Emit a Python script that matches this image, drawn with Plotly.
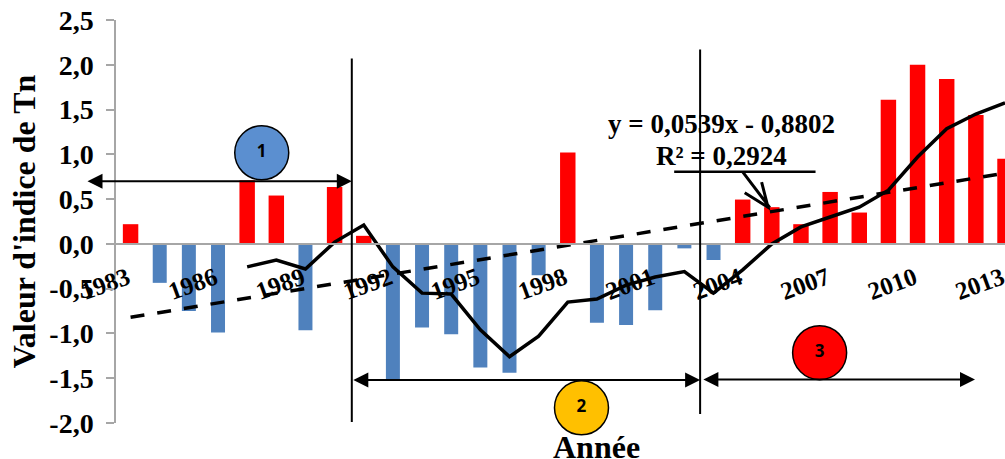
import plotly.graph_objects as go

years = list(range(1983, 2014))
tn_index = [0.22, -0.435, -0.75, -0.99, 0.71, 0.54, -0.965, 0.635, 0.09, -1.53,
            -0.935, -1.01, -1.38, -1.44, -0.35, 1.02, -0.88, -0.905, -0.74, -0.05,
            -0.18, 0.495, 0.41, 0.22, 0.58, 0.35, 1.61, 2.0, 1.84, 1.44, 0.95]

# moving average only starts in 1987
avg_years = list(range(1987, 2014))
moving_avg = [-0.257, -0.18, -0.28, 0.02, 0.21, -0.257, -0.55, -0.56, -0.96, -1.26,
              -1.03, -0.65, -0.615, -0.46, -0.37, -0.31, -0.55, -0.29, 0.0, 0.19,
              0.30, 0.41, 0.60, 0.97, 1.285, 1.45, 1.575]

trend_years = [1983, 2013]
trend_values = [-0.82, 0.79]

y_ticks = [2.5, 2.0, 1.5, 1.0, 0.5, 0.0, -0.5, -1.0, -1.5, -2.0]
y_labels = ["2,5", "2,0", "1,5", "1,0", "0,5", "0,0", "-0,5", "-1,0", "-1,5", "-2,0"]
x_ticks = list(range(1983, 2014, 3))

phase_years = [1987.5, 1998.47, 2006.64]
phase_values = [1.017, -1.83, -1.215]
phase_names = ["1", "2", "3"]
phase_colors = ["#5B8FD0", "#FFC000", "#FF0000"]

SERIF = "Liberation Serif"
GREY = "#A6A6A6"
BLUE = "#4F81BD"

fig = go.Figure()

fig.add_trace(go.Bar(
    x=years, y=tn_index,
    width=[0.53 if v > 0 else 0.48 for v in tn_index],
    marker=dict(color=["#FF0000" if v > 0 else BLUE for v in tn_index], line_width=0),
))
fig.add_trace(go.Scatter(x=trend_years, y=trend_values, mode="lines",
                         line=dict(color="black", width=3.5, dash="14px 13px")))
fig.add_trace(go.Scatter(x=avg_years, y=moving_avg, mode="lines",
                         line=dict(color="black", width=3.5), cliponaxis=False))
fig.add_trace(go.Scatter(
    x=phase_years, y=phase_values, mode="markers+text", cliponaxis=False,
    marker=dict(size=54, color=phase_colors, line=dict(color="black", width=1.5)),
    text=phase_names, textposition="middle center",
    textfont=dict(family="Open Sans", size=17, color="black", weight=700),
))


def double_arrow(x0, x1, y):
    fig.add_annotation(x=x1, y=y, ax=x0, ay=y, xref="x", yref="y", axref="x", ayref="y",
                       text="", showarrow=True, arrowside="end+start", arrowhead=2,
                       startarrowhead=2, arrowsize=1.5, startarrowsize=1.5,
                       arrowwidth=2, arrowcolor="black")


double_arrow(1981.47, 1990.59, 0.70)
double_arrow(1990.59, 2002.54, -1.52)
double_arrow(2002.6, 2011.97, -1.515)

# period separators
fig.add_shape(type="line", x0=1990.59, x1=1990.59, y0=-1.99, y1=2.07,
              line=dict(color="black", width=2))
fig.add_shape(type="line", x0=2002.54, x1=2002.54, y0=-1.90, y1=2.17,
              line=dict(color="black", width=2))

# rule under the equation, with the open arrow pointing at the trend
fig.add_shape(type="line", x0=2001.65, x1=2006.5, y0=0.805, y1=0.805,
              line=dict(color="black", width=2.5))
fig.add_shape(type="path", line=dict(color="black", width=3),
              path="M 2004.0,0.805 L 2004.93,0.405 M 2004.07,0.57 L 2004.87,0.41 L 2004.65,0.69")

for text, y in [("y = 0,0539x - 0,8802", 1.34), ("R² = 0,2924", 0.985)]:
    fig.add_annotation(x=2003.28, y=y, xref="x", yref="y", text=text, showarrow=False,
                       font=dict(family=SERIF, size=27, color="black", weight=700))

# below the plot area, so it has to be placed in paper units
fig.add_annotation(x=1999.0, y=-0.06, xref="x", yref="paper", yanchor="middle",
                   text="Année", showarrow=False,
                   font=dict(family=SERIF, size=32, color="black", weight=700))

fig.update_layout(
    width=1005, height=459,
    margin=dict(l=116, r=0, t=20, b=36, autoexpand=False),
    paper_bgcolor="white", plot_bgcolor="white",
    showlegend=False,
    xaxis=dict(
        range=[1982.5, 2013.0], tickmode="array", tickvals=x_ticks,
        tickfont=dict(family=SERIF, size=25, color="black", weight=700),
        tickangle=-20, ticks="", ticklabelstandoff=9, ticklabelshift=-3,
        ticklabeloverflow="allow",
        anchor="free", position=2.0 / 4.5,
        showgrid=False, zeroline=False, showline=True, linecolor=GREY, linewidth=2,
    ),
    yaxis=dict(
        range=[-2.0, 2.5], tickmode="array", tickvals=y_ticks, ticktext=y_labels,
        tickfont=dict(family=SERIF, size=28, color="black", weight=700),
        ticks="outside", ticklen=8, tickcolor=GREY, tickwidth=1.5, ticklabelstandoff=7,
        showgrid=False, zeroline=False, showline=True, linecolor=GREY, linewidth=1.5,
        # standoff is only honoured with automargin on
        title=dict(text="Valeur d'indice de Tn", standoff=4,
                   font=dict(family=SERIF, size=32, color="black", weight=700)),
        automargin=True,
    ),
)

# the page's default body margin would push the plot 8px in
fig.write_html("out.html", config={"displayModeBar": False},
               post_script="document.body.style.margin='0';")
